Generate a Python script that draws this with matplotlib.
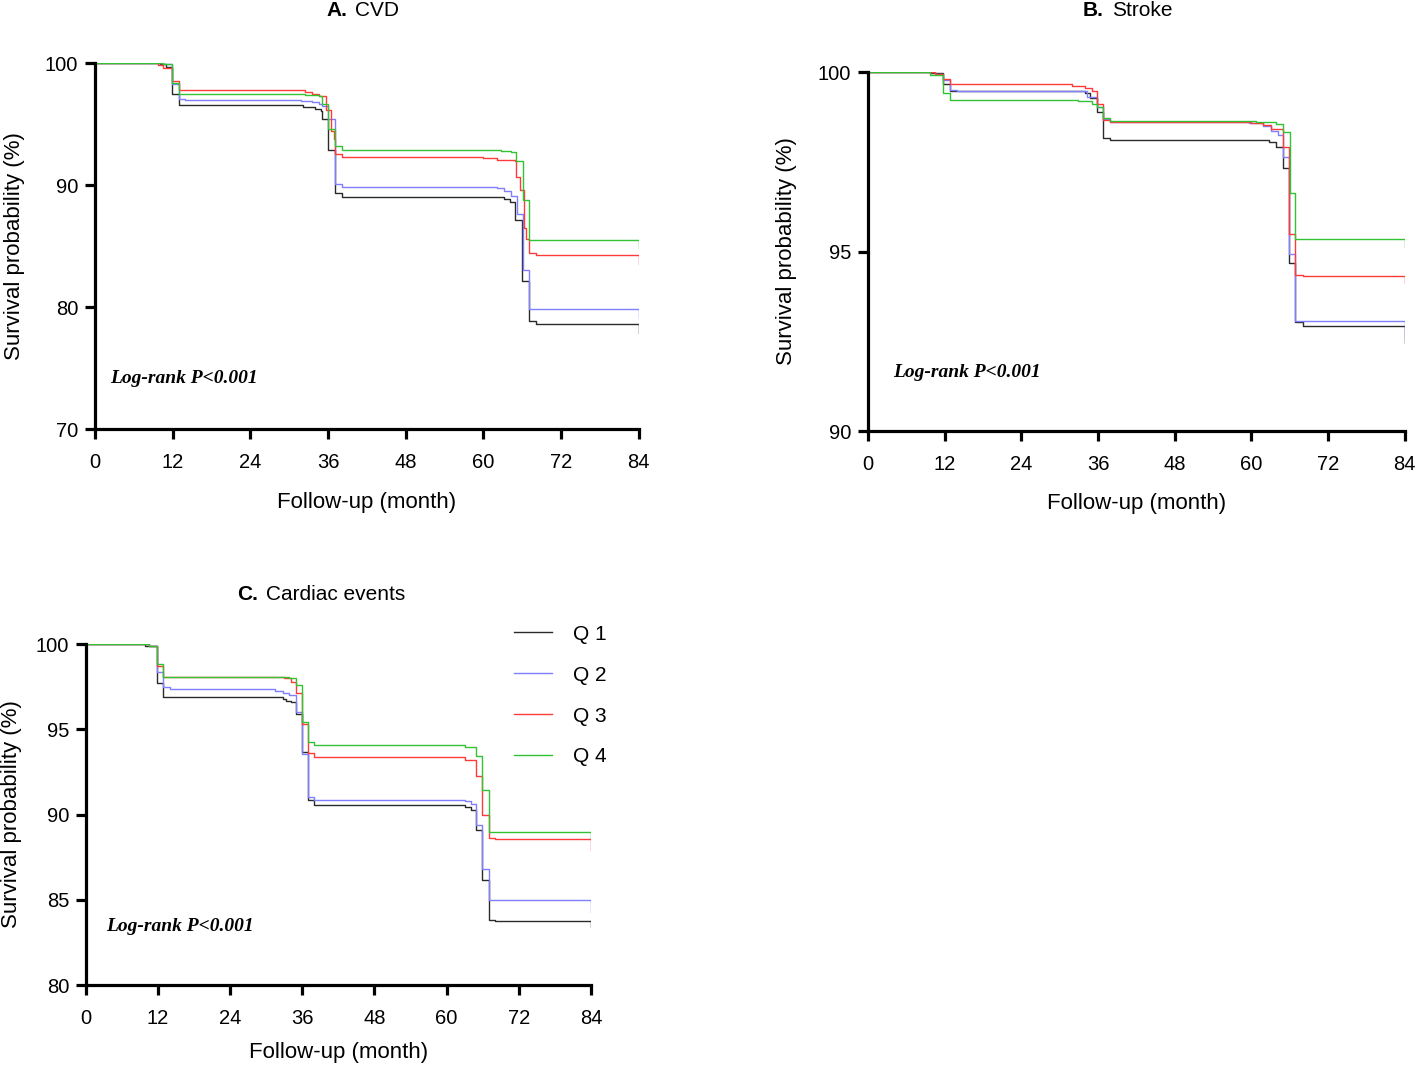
import matplotlib
matplotlib.use("Agg")
import matplotlib.pyplot as plt

plt.rcParams['font.family'] = ['Liberation Sans', 'DejaVu Sans']

# ---- data (months, survival %) ----
groups = ["Q 1", "Q 2", "Q 3", "Q 4"]
colors = ["#2a2a2a", "#7f7fff", "#ff3a3a", "#33c233"]
month_ticks = [0, 12, 24, 36, 48, 60, 72, 84]

# A. CVD
cvd_q1_t = [0, 10.0, 11.0, 11.9, 12.9, 32.1, 34.0, 34.9, 35.1, 36.0, 37.1, 38.2, 59.9, 63.2, 64.1, 64.9, 66.0, 67.0, 68.1, 84]
cvd_q1_s = [100, 99.9, 99.7, 97.5, 96.56, 96.42, 96.23, 96.09, 95.41, 92.87, 89.34, 89.04, 88.99, 88.85, 88.66, 87.13, 82.16, 78.83, 78.66, 77.92]
cvd_q2_t = [0, 10.5, 11.9, 12.9, 13.9, 31.8, 33.5, 34.6, 35.1, 36.0, 37.1, 38.2, 62.1, 63.2, 64.3, 65.2, 66.1, 67.0, 84]
cvd_q2_s = [100, 99.9, 98.28, 97.1, 96.97, 96.86, 96.78, 96.64, 96.5, 95.41, 90.08, 89.81, 89.75, 89.54, 89.13, 87.62, 83.03, 79.84, 79.15]
cvd_q3_t = [0, 9.8, 10.5, 11.9, 12.9, 32.4, 33.5, 34.6, 35.7, 36.4, 36.9, 37.1, 38.2, 59.9, 62.1, 64.9, 65.0, 65.6, 66.3, 66.6, 67.1, 68.2, 84]
cvd_q3_s = [100, 99.85, 99.6, 98.55, 97.81, 97.6, 97.46, 97.32, 96.2, 94.45, 93.77, 92.54, 92.27, 92.21, 92.05, 91.94, 90.68, 89.59, 86.53, 85.57, 84.4, 84.29, 83.52]
cvd_q4_t = [0, 10.5, 11.9, 12.9, 32.4, 34.6, 35.1, 36.0, 37.1, 38.2, 61.0, 62.7, 64.3, 65.0, 66.1, 67.0, 84]
cvd_q4_s = [100, 99.9, 98.36, 97.46, 97.4, 97.32, 96.69, 94.59, 93.22, 92.92, 92.87, 92.81, 92.68, 92.0, 88.77, 85.52, 84.89]

# B. Stroke
stk_q1_t = [0, 9.7, 11.8, 12.9, 33.9, 34.8, 35.9, 36.8, 37.9, 62.8, 63.9, 64.9, 65.9, 66.9, 68.1, 84]
stk_q1_s = [100, 99.97, 99.66, 99.47, 99.42, 99.28, 98.88, 98.16, 98.11, 98.06, 97.91, 97.33, 94.67, 93.04, 92.92, 92.46]
stk_q2_t = [0, 10.5, 11.8, 12.9, 13.9, 34.2, 35.9, 36.8, 37.9, 59.7, 61.9, 63.1, 64.1, 65.0, 65.9, 66.9, 84]
stk_q2_s = [100, 99.95, 99.77, 99.51, 99.47, 99.32, 99.02, 98.7, 98.6, 98.58, 98.51, 98.37, 98.26, 97.63, 94.94, 93.06, 92.6]
stk_q3_t = [0, 10.5, 11.8, 12.9, 31.9, 33.1, 33.9, 35.0, 35.9, 36.8, 37.9, 60.0, 61.9, 63.1, 64.9, 65.9, 66.9, 68.1, 84]
stk_q3_s = [100, 99.95, 99.81, 99.66, 99.62, 99.6, 99.56, 99.47, 99.1, 98.67, 98.6, 98.58, 98.54, 98.42, 97.92, 95.48, 94.35, 94.31, 94.11]
stk_q4_t = [0, 9.7, 11.8, 12.9, 32.8, 35.0, 35.9, 36.8, 37.9, 60.8, 63.9, 65.0, 66.0, 66.9, 84]
stk_q4_s = [100, 99.91, 99.41, 99.23, 99.19, 99.1, 99.02, 98.72, 98.63, 98.6, 98.55, 98.32, 96.62, 95.36, 95.13]

# C. Cardiac events
car_q1_t = [0, 9.9, 11.9, 12.9, 32.7, 33.2, 34.1, 34.9, 35.9, 36.9, 37.9, 63.0, 64.0, 64.9, 65.9, 67.0, 68.0, 84]
car_q1_s = [100, 99.9, 97.69, 96.87, 96.75, 96.68, 96.61, 95.89, 93.67, 90.87, 90.54, 90.44, 90.24, 89.07, 86.17, 83.82, 83.74, 83.39]
car_q2_t = [0, 10.5, 11.9, 12.9, 13.9, 31.5, 32.7, 33.8, 34.9, 36.0, 37.0, 38.0, 63.0, 64.0, 64.9, 65.9, 67.0, 84]
car_q2_s = [100, 99.9, 98.37, 97.45, 97.34, 97.26, 97.14, 97.0, 96.02, 93.57, 91.03, 90.83, 90.79, 90.64, 89.36, 86.82, 85.0, 84.27]
car_q3_t = [0, 10.5, 11.9, 12.9, 32.9, 34.1, 34.9, 35.9, 36.9, 37.9, 63.0, 64.9, 65.9, 67.0, 68.0, 84]
car_q3_s = [100, 99.9, 98.71, 98.08, 97.98, 97.79, 97.1, 95.3, 93.61, 93.38, 93.18, 92.24, 89.95, 88.64, 88.58, 87.93]
car_q4_t = [0, 10.5, 11.9, 12.9, 33.8, 34.9, 36.0, 37.0, 38.0, 63.0, 64.9, 65.9, 67.0, 84]
car_q4_s = [100, 99.9, 98.82, 98.08, 97.98, 97.59, 95.44, 94.26, 94.06, 93.95, 93.42, 91.46, 88.97, 88.58]

fig = plt.figure(figsize=(14.16, 10.65), dpi=100)

panels = [
    # rect, bold letter, title, ylim, yticks, curves, p-value text pos, title pos (px), label coords
    ([0.0671, 0.597, 0.384, 0.3437], "A.", "CVD", (70, 100), [70, 80, 90, 100],
     [(cvd_q1_t, cvd_q1_s), (cvd_q2_t, cvd_q2_s), (cvd_q3_t, cvd_q3_s), (cvd_q4_t, cvd_q4_s)],
     (0.028, 0.126), (347, 10), (-0.129, -0.172)),
    ([0.613, 0.5953, 0.379, 0.337], "B.", "Stroke", (90, 100), [90, 95, 100],
     [(stk_q1_t, stk_q1_s), (stk_q2_t, stk_q2_s), (stk_q3_t, stk_q3_s), (stk_q4_t, stk_q4_s)],
     (0.047, 0.15), (1104, 10), (-0.132, -0.172)),
    ([0.0607, 0.0751, 0.3566, 0.3202], "C.", "Cardiac events", (80, 100), [80, 85, 90, 95, 100],
     [(car_q1_t, car_q1_s), (car_q2_t, car_q2_s), (car_q3_t, car_q3_s), (car_q4_t, car_q4_s)],
     (0.04, 0.158), (258, 594), (-0.127, -0.167)),
]

axes = []
for rect, letter, title, ylim, yticks, curves, txt_pos, title_pos, lab in panels:
    ax = fig.add_axes(rect)
    for (t, s), c, g in zip(curves, colors, groups):
        ax.step(t, s, where="post", color=c, lw=1.0, label=g)
    ax.set_xlim(0, 84)
    ax.set_ylim(*ylim)
    ax.set_xticks(month_ticks)
    ax.set_yticks(yticks)
    for side in ["top", "right"]:
        ax.spines[side].set_visible(False)
    for side in ["left", "bottom"]:
        ax.spines[side].set_linewidth(2.3)
    ax.tick_params(axis="both", width=2.3, length=7, labelsize=14.5)
    ax.tick_params(axis="x", pad=10)
    ax.tick_params(axis="y", pad=5)
    ax.set_xlabel("Follow-up (month)", fontsize=16)
    ax.set_ylabel("Survival probability (%)", fontsize=16)
    ax.xaxis.set_label_coords(0.5, lab[1])
    ax.yaxis.set_label_coords(lab[0], 0.5)
    ax.text(txt_pos[0], txt_pos[1], "Log-rank P<0.001", transform=ax.transAxes,
            family="Liberation Serif", style="italic", weight="bold", fontsize=14)
    # panel title: bold letter + normal name
    fx = title_pos[0] / 1416
    fy = 1 - title_pos[1] / 1065
    fig.text(fx, fy, letter, ha="right", va="center", weight="bold", fontsize=15)
    fig.text(fx + 0.006, fy, title, ha="left", va="center", fontsize=15)
    axes.append(ax)

handles, labels = axes[2].get_legend_handles_labels()
fig.legend(handles, labels, loc="upper left", bbox_to_anchor=(0.350, 1 - 606 / 1065),
           frameon=False, fontsize=15, handlelength=1.8, handletextpad=1.0,
           labelspacing=1.05)

fig.savefig("out.png", dpi=100)
